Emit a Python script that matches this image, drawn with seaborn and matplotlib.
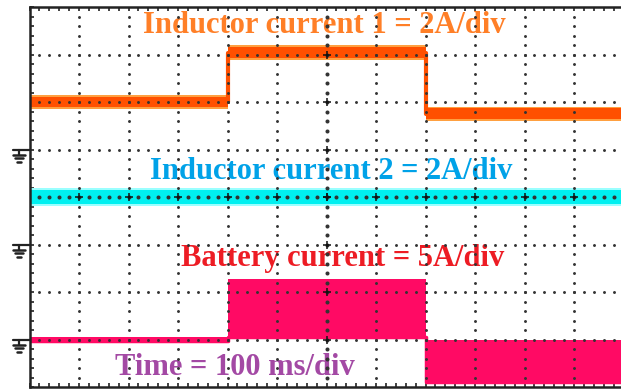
import numpy as np
import matplotlib
matplotlib.use("Agg")
import matplotlib.pyplot as plt
import seaborn as sns
from matplotlib.ticker import MultipleLocator
from matplotlib.transforms import blended_transform_factory

sns.set_theme(style="white")
plt.rcParams["font.family"] = ["Liberation Serif", "DejaVu Serif"]

# Time base: 100 ms/div over 12 horizontal divisions
step_times_ms = [0, 400, 800, 1200]

# Channel levels in screen divisions (8 vertical divisions)
il1_level_div = [6.0, 7.04, 5.75]
il2_level_div = [4.0, 4.0, 4.0]
bat_low_div = [0.97, 1.05, 0.10]
bat_high_div = [1.05, 2.28, 1.00]

# Ground reference markers of the channels
ground_marks_div = [5.0, 3.0, 1.0]

labels = ["Inductor current 1 = 2A/div", "Inductor current 2 = 2A/div",
          "Battery current = 5A/div", "Time = 100 ms/div"]
label_x_ms = [595, 609, 632, 415]
label_base_div = [7.45, 4.38, 2.55, 0.25]
label_colors = ["#FF7F27", "#00A2E8", "#ED1C24", "#A349A4"]

W, H = 621, 391
fig = plt.figure(figsize=(W / 100, H / 100), dpi=100)
fig.patch.set_facecolor("white")
left_px, right_px, top_px, bottom_px = 29.5, 623.5, 7, 387
ax = fig.add_axes([left_px / W, (H - bottom_px) / H,
                   (right_px - left_px) / W, (bottom_px - top_px) / H])
ax.set_facecolor("white")
ax.set_xlim(0, 1200)
ax.set_ylim(0, 8)

t = np.array(step_times_ms, dtype=float)


def ext(v):
    return np.append(np.asarray(v, dtype=float), v[-1])


def band(levels, half, color, z):
    lv = ext(levels)
    ax.fill_between(t, lv - half, lv + half, step="post", color=color,
                    lw=0, zorder=z)


# Inductor current 1 (orange) with a lighter fuzzy edge
band(il1_level_div, 0.15, "#FFA040", 2)
band(il1_level_div, 0.115, "#FF5000", 2.1)
sns.lineplot(x=t, y=ext(il1_level_div), drawstyle="steps-post",
             estimator=None, color="#FF5000", lw=3.0, ax=ax, zorder=2.2)

# Inductor current 2 (cyan)
band(il2_level_div, 0.19, "#9AFFFF", 2)
band(il2_level_div, 0.145, "#00F0F0", 2.1)

# Battery current (magenta-red)
ax.fill_between(t, ext(bat_low_div), ext(bat_high_div), step="post",
                color="#FF0A64", lw=0, zorder=2)
sns.lineplot(x=t, y=ext(bat_low_div), drawstyle="steps-post",
             estimator=None, color="#FF0A64", lw=2.5, ax=ax, zorder=2)

# Labels
for txt, x, y, c in zip(labels, label_x_ms, label_base_div, label_colors):
    ax.text(x, y, txt, color=c, fontsize=22, fontweight="bold",
            ha="center", va="baseline", zorder=3)

# Graticule: dotted division lines, heavier centre lines
dot_c = "#333333"
ys = np.arange(0.2, 8.0, 0.2)
xs = np.arange(20, 1200, 20)
for gx in range(100, 1200, 100):
    big = gx == 600
    ax.plot(np.full_like(ys, gx), ys, ls="none", marker="o",
            ms=2.9 if big else 2.1, mew=0, color=dot_c, zorder=5)
for gy in range(1, 8):
    big = gy == 4
    ax.plot(xs, np.full_like(xs, gy, dtype=float), ls="none", marker="o",
            ms=2.9 if big else 2.1, mew=0, color=dot_c, zorder=5)
ax.plot(np.arange(100, 1200, 100), np.full(11, 4.0), ls="none", marker="+",
        ms=6, mew=1.1, color="#111111", zorder=5)
ax.plot(np.full(7, 600), np.arange(1, 8), ls="none", marker="+",
        ms=6, mew=1.1, color="#111111", zorder=5)

# Border with inward minor ticks
ax.xaxis.set_major_locator(MultipleLocator(20))
ax.yaxis.set_major_locator(MultipleLocator(0.2))
ax.tick_params(direction="in", length=3, width=1.2, colors="#222222",
               labelbottom=False, labelleft=False, labeltop=False,
               bottom=True, top=True, left=True, right=False)
ax.grid(False)
for side in ["left", "top", "bottom"]:
    ax.spines[side].set_visible(True)
    ax.spines[side].set_color("#222222")
    ax.spines[side].set_linewidth(1.8)
    ax.spines[side].set_zorder(6)
ax.spines["right"].set_visible(False)

# Ground symbols at the left edge
tr = blended_transform_factory(ax.transAxes, ax.transData)
span = right_px - left_px
px2ax = lambda p: (p - left_px) / span
px2div = 8.0 / (bottom_px - top_px)
for g in ground_marks_div:
    ax.plot([px2ax(13), px2ax(left_px)], [g, g], color="#222222", lw=1.6,
            transform=tr, clip_on=False, zorder=6)
    ax.plot([px2ax(19), px2ax(19)], [g, g - 5 * px2div], color="#222222",
            lw=1.6, transform=tr, clip_on=False, zorder=6)
    for off, wdt in [(5, 12), (8.5, 8), (12, 4)]:
        ax.plot([px2ax(19 - wdt / 2), px2ax(19 + wdt / 2)],
                [g - off * px2div] * 2, color="#222222", lw=1.8,
                transform=tr, clip_on=False, zorder=6)

ax.set_xlabel("")
ax.set_ylabel("")
fig.savefig("out.png", dpi=100, facecolor="white")
